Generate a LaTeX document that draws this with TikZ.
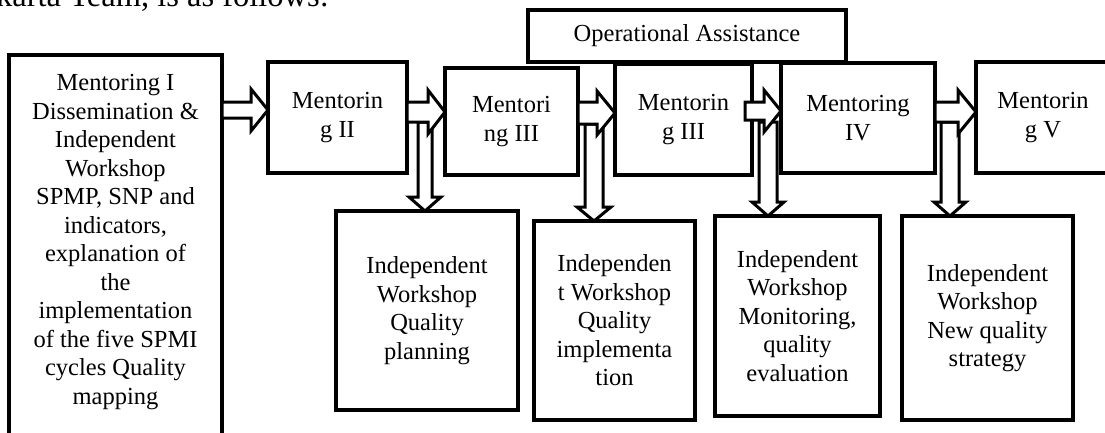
\documentclass[tikz,border=0pt]{standalone}
\usepackage{fontspec}
\setmainfont{Liberation Serif}
\usetikzlibrary{calc}
\newcommand\mybox[6]{\node[box, minimum width={#4-#2}, minimum height={#5-#3}] (#1) at ({(#2+#4)/2},{(#3+#5)/2}) {#6};}
\newcommand\harr[5]{\draw[barrow] let \p1=(#1), \p2=(#2) in
  (\x1,\y1+#3pt) -- (\x2-#5pt,\y1+#3pt) -- (\x2-#5pt,\y1+#4pt) -- (\x2,\y1) -- (\x2-#5pt,\y1-#4pt) -- (\x2-#5pt,\y1-#3pt) -- (\x1,\y1-#3pt) -- cycle;}
\newcommand\varr[5]{\draw[barrow] let \p1=(#1), \p2=(#2) in
  (\x1-#3pt,\y1) -- (\x1-#3pt,\y2+#5pt) -- (\x1-#4pt,\y2+#5pt) -- (\x1,\y2) -- (\x1+#4pt,\y2+#5pt) -- (\x1+#3pt,\y2+#5pt) -- (\x1+#3pt,\y1) -- cycle;}
\begin{document}
\begin{tikzpicture}[x=1pt,y=-1pt,
  box/.style={draw=black, line width=4pt, fill=white, inner sep=0pt, outer sep=0pt, align=center,
    font=\fontsize{24.5}{28.5}\selectfont},
  txt/.style={inner sep=0pt, align=center, font=\fontsize{24.5}{28.5}\selectfont},
  barrow/.style={draw=black, line width=3pt, fill=white, line join=miter}]
\useasboundingbox (0,0) rectangle (1105,432);
\node[anchor=base west, inner sep=0pt, font=\fontsize{32.5}{36}\selectfont] (hdr) at (-4,6.5) {karta Team, is as follows:};
% boxes
\mybox{m1}{9}{55}{222}{445}{}
\node[txt] (m1t) at (115.5,242) {Mentoring I\\Dissemination \&\\Independent\\Workshop\\SPMP, SNP and\\indicators,\\explanation of\\the\\implementation\\of the five SPMI\\cycles Quality\\mapping};
\mybox{m2}{268}{62}{407}{173}{Mentorin\\g II}
\mybox{m3}{445}{68}{578}{175}{Mentori\\ng III}
\mybox{op}{528}{10}{846}{62}{Operational Assistance}
\mybox{m3b}{615}{64}{752}{175}{Mentorin\\g III}
\mybox{m4}{781}{63}{935}{173}{Mentoring\\IV}
\mybox{m5}{976}{62}{1110}{173}{Mentorin\\g V}
\mybox{b1}{336}{211}{518}{410}{Independent\\Workshop\\Quality\\planning}
\mybox{b2}{534}{221}{695}{420}{Independen\\t Workshop\\Quality\\implementa\\tion}
\mybox{b3}{715}{216}{880}{416}{Independent\\Workshop\\Monitoring,\\quality\\evaluation}
\mybox{b4}{902}{216}{1073}{420}{Independent\\Workshop\\New quality\\strategy}
% arrow anchors
\coordinate (a1) at (222,110);
\coordinate (a2) at (407,112);
\coordinate (a3) at (578,113);
\coordinate (a4) at (745,111);
\coordinate (a5) at (935,112);
\coordinate (d1) at (425,122);
\coordinate (d2) at (594,124);
\coordinate (d3) at (768,122);
\coordinate (d4) at (950,122);
% down arrows
\varr{d1}{b1.north}{7}{16}{14}
\varr{d2}{b2.north}{9}{17}{14}
\varr{d3}{b3.north}{9}{16}{14}
\varr{d4}{b4.north}{9}{16}{14}
% horizontal arrows
\harr{a1}{m2.west}{8}{21}{17}
\harr{a2}{m3.west}{10}{22}{17}
\harr{a3}{m3b.west}{11}{22}{18}
\harr{a4}{m4.west}{9}{21}{17}
\harr{a5}{m5.west}{10}{22}{18}
\end{tikzpicture}
\end{document}
